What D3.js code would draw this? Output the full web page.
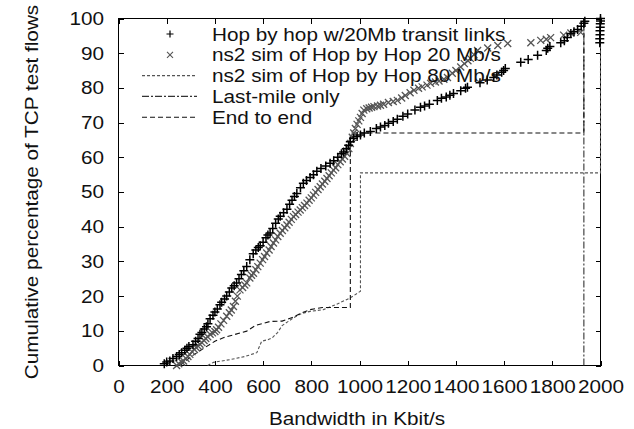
<!DOCTYPE html>
<html>
<head>
<meta charset="utf-8">
<script src="https://cdn.jsdelivr.net/npm/d3@7"></script>
<style>
  body { margin: 0; background: #fff; }
  text { font-family: "Liberation Sans", Arial, sans-serif; font-size: 18.5px; fill: #111; }
  .ax path, .ax line { stroke: #000; shape-rendering: crispEdges; }
</style>
</head>
<body>
<svg id="chart" width="634" height="429"></svg>
<script>
// ── Data ─────────────────────────────────────────────────────────
const xTicks = [0, 200, 400, 600, 800, 1000, 1200, 1400, 1600, 1800, 2000];
const yTicks = [0, 10, 20, 30, 40, 50, 60, 70, 80, 90, 100];

const seriesNames = [
  "Hop by hop w/20Mb transit links",
  "ns2 sim of Hop by Hop 20 Mb/s",
  "ns2 sim of Hop by Hop 80 Mb/s",
  "Last-mile only",
  "End to end"
];

// "+" Hop by hop w/20Mb transit links
const hopBw  = [190,200,213,226,241,252,262,275,284,292,309,320,330,338,346,356,365,371,380,392,400,410,421,428,440,449,460,470,480,490,500,510,520,532,545,559,570,580,588,600,612,620,629,640,652,663,671,685,699,710,720,730,740,755,767,780,795,809,823,840,860,878,893,910,925,934,945,955,962,975,990,1004,1020,1045,1070,1087,1105,1120,1140,1157,1180,1200,1230,1253,1270,1290,1323,1340,1360,1375,1390,1420,1440,1448,1500,1530,1557,1570,1590,1598,1605,1669,1700,1739,1775,1781,1790,1835,1850,1862,1877,1890,1905,1920,1931,1935,1997,1997,1998,1998,1999,1999,2000,2000];
const hopPct = [0.5,1,1.3,2,2.6,3.2,3.7,4.4,5,5.5,6,7,7.8,9,9.5,10.5,11.2,12,13.5,14.5,15.4,16.3,17.5,18.2,19.2,20,21.2,22.3,23,23.8,25,26.2,27.3,28.5,30.5,32.2,33.3,34,34.5,35.5,36.8,37.6,38.2,39.5,41,42.2,43,44,45,46.5,47.6,48.7,49.6,51.2,52.5,53.3,54.2,55,56,56.8,57.5,58.3,59,60,61,61.5,62.5,63.5,64.5,65.5,66,66.4,67,67.4,68.3,68.7,69.2,69.8,70.3,71,71.8,72.5,73.6,74.4,74.8,75.3,76.4,77,77.4,77.9,78.4,79.2,79.9,80.2,81.5,82.3,83,83.7,84.5,85,85.6,87.4,88.2,89.4,90.8,91.4,91.9,93,93.6,94.5,95.7,96.2,96.8,97.8,98.6,99.2,93,94.2,95.3,96.5,97.5,98.5,99.3,100];

// "x" ns2 sim of Hop by Hop 20 Mb/s
const sim20Bw  = [241,250,262,270,280,288,296,305,315,322,330,338,346,355,362,370,380,390,400,407,415,425,436,449,460,468,477,485,493,504,515,524,532,545,552,560,570,578,588,598,606,615,625,633,643,652,661,671,680,690,699,708,717,726,735,745,754,763,772,782,791,800,809,818,828,837,846,856,865,874,883,892,901,910,920,929,938,948,956,962,970,976,983,990,997,1004,1011,1018,1030,1040,1050,1060,1075,1087,1100,1120,1140,1157,1175,1190,1210,1226,1245,1260,1280,1295,1315,1330,1350,1365,1385,1400,1420,1435,1450,1460,1475,1490,1532,1574,1615,1711,1752,1775,1793,1847,1877,1918];
const sim20Pct = [0,0.5,1,1.3,2,2.6,3.2,4,4.6,5.2,5.6,6.1,6.6,7.2,7.8,8.3,9,9.4,9.8,10.3,11,12,13,14.2,15.2,16,17,18.5,20,21.8,22.5,23.2,23.8,25.2,26,26.6,27.6,28.5,29.5,30.5,31.4,32.4,33.3,34.3,35.3,36.2,37.2,38.1,38.9,39.7,40.5,41.3,42.1,42.9,43.5,44.2,44.8,45.5,46.1,46.8,47.6,48.3,49.1,49.9,50.7,51.5,52.3,53.1,53.9,54.7,55.5,56.3,57,57.9,58.7,59.5,60.3,61.1,62.5,64,65.8,67,68.3,69.5,70.5,71.5,72.6,73.6,74,74.2,74.4,74.6,74.8,75,75.3,75.8,76.1,76.4,77.1,77.8,78.6,79.3,79.9,80.3,80.8,81.3,81.7,82,82.5,83,84.2,85,86,87,87.8,88.5,89.6,90.8,91.5,92.2,92.8,93,93.7,94,94.5,95.2,95.8,96];

// fine dotted: ns2 sim of Hop by Hop 80 Mb/s
const sim80Bw  = [370,394,463,525,574,594,622,638,660,679,700,727,760,795,850,900,962,1004,1004,2000,2000];
const sim80Pct = [0,0.9,1.7,2.6,3.7,7,7.5,8,9.5,11.5,12.5,13.8,15,15.6,16.1,17.5,19.5,21.4,55.5,55.5,100];

// dash-dot: Last-mile only
const lastMileBw  = [1931, 1931];
const lastMilePct = [0, 100];

// dashed: End to end
const e2eBw  = [255,300,350,400,435,480,532,567,629,679,721,760,795,846,962,962,1931,1931];
const e2ePct = [0,2.5,4.8,7,8,8.9,9.9,11.5,12.7,12.8,13.8,15.2,16.1,16.7,16.7,67,67,100];

// ── Setup ────────────────────────────────────────────────────────
const svg = d3.select("#chart");
const x = d3.scaleLinear().domain([0, 2000]).range([118.5, 600.5]);
const y = d3.scaleLinear().domain([0, 100]).range([365.5, 18.5]);
const SX = "scale(1.12,1)";   // labels in the original are a bit wide

// frame
svg.append("rect")
  .attr("x", x(0)).attr("y", y(100))
  .attr("width", x(2000) - x(0)).attr("height", y(0) - y(100))
  .attr("fill", "none").attr("stroke", "#000").attr("shape-rendering", "crispEdges");

// ── Axes (inward ticks, mirrored on top / right) ────────────────
const gx = svg.append("g").attr("class", "ax").attr("transform", `translate(0,${y(0)})`)
  .call(d3.axisBottom(x).tickValues(xTicks).tickFormat(d3.format("d"))
    .tickSizeInner(-5).tickSizeOuter(0).tickPadding(14));
gx.selectAll("text").attr("transform", SX);

const gy = svg.append("g").attr("class", "ax").attr("transform", `translate(${x(0)},0)`)
  .call(d3.axisLeft(y).tickValues(yTicks).tickSizeInner(-5).tickSizeOuter(0).tickPadding(13));
gy.selectAll("text").attr("transform", SX);

svg.append("g").attr("class", "ax").attr("transform", `translate(0,${y(100)})`)
  .call(d3.axisTop(x).tickValues(xTicks).tickSizeInner(-5).tickSizeOuter(0).tickFormat(""));
svg.append("g").attr("class", "ax").attr("transform", `translate(${x(2000)},0)`)
  .call(d3.axisRight(y).tickValues(yTicks).tickSizeInner(-5).tickSizeOuter(0).tickFormat(""));
svg.selectAll(".ax .domain").remove();

// axis titles
svg.append("text")
  .attr("transform", `translate(357,425) ${SX}`)
  .attr("text-anchor", "middle")
  .text("Bandwidth in Kbit/s");
svg.append("text")
  .attr("transform", `translate(38,192) rotate(-90) ${SX}`)
  .attr("text-anchor", "middle")
  .text("Cumulative percentage of TCP test flows");

// ── Lines ────────────────────────────────────────────────────────
const lineStyles = [
  { bw: sim80Bw,    pct: sim80Pct,    color: "#555", dash: "3,2",     w: 1.1 },
  { bw: lastMileBw, pct: lastMilePct, color: "#333", dash: "7,2,2,2", w: 1.1 },
  { bw: e2eBw,      pct: e2ePct,      color: "#111", dash: "5,3",     w: 1.1 }
];
const line = d3.line().x(d => x(d[0])).y(d => y(d[1]));

lineStyles.forEach(s => {
  svg.append("path")
    .datum(d3.zip(s.bw, s.pct))
    .attr("d", line)
    .attr("fill", "none")
    .attr("stroke", s.color)
    .attr("stroke-width", s.w)
    .attr("stroke-dasharray", s.dash);
});

// ── Markers ──────────────────────────────────────────────────────
const plusPath  = "M-4.5,0H4.5M0,-4.5V4.5";
const crossPath = "M-3.5,-3.5L3.5,3.5M-3.5,3.5L3.5,-3.5";

svg.append("g").selectAll("path")
  .data(d3.zip(sim20Bw, sim20Pct))
  .join("path")
  .attr("transform", d => `translate(${x(d[0])},${y(d[1])})`)
  .attr("d", crossPath)
  .attr("stroke", "#555").attr("stroke-width", 1.3).attr("fill", "none");

svg.append("g").selectAll("path")
  .data(d3.zip(hopBw, hopPct))
  .join("path")
  .attr("transform", d => `translate(${x(d[0])},${y(d[1])})`)
  .attr("d", plusPath)
  .attr("stroke", "#000").attr("stroke-width", 1.5).attr("fill", "none");

// ── Legend ───────────────────────────────────────────────────────
const legY0 = 34, legDY = 20.8, legSymX = 170, legTextX = 212;
const legend = svg.append("g");

seriesNames.forEach((name, i) => {
  const ly = legY0 + i * legDY;
  if (i === 0) {
    legend.append("path").attr("transform", `translate(${legSymX},${ly})`)
      .attr("d", "M-3.5,0H3.5M0,-3.5V3.5").attr("stroke", "#000").attr("stroke-width", 1.2);
  } else if (i === 1) {
    legend.append("path").attr("transform", `translate(${legSymX},${ly})`)
      .attr("d", "M-3,-3L3,3M-3,3L3,-3").attr("stroke", "#555").attr("stroke-width", 1.1);
  } else {
    const s = lineStyles[i - 2];
    legend.append("line")
      .attr("x1", 142).attr("x2", 197).attr("y1", ly).attr("y2", ly)
      .attr("stroke", s.color).attr("stroke-width", s.w).attr("stroke-dasharray", s.dash);
  }
  legend.append("text")
    .attr("transform", `translate(${legTextX},${ly}) ${SX}`)
    .attr("dy", "0.36em")
    .text(name);
});
</script>
</body>
</html>
